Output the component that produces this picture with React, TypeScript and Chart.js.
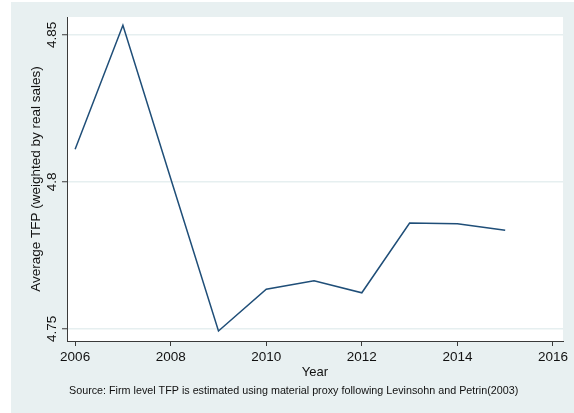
import React, { useEffect, useRef } from "react";
import { Chart, registerables } from "chart.js";

Chart.register(...registerables);

const years = [2006, 2007, 2008, 2009, 2010, 2011, 2012, 2013, 2014, 2015];
const tfp = [4.8111, 4.8533, 4.8012, 4.7493, 4.7635, 4.7664, 4.7623, 4.786, 4.7858, 4.7836];
const xTicks = [2006, 2008, 2010, 2012, 2014, 2016];
const xTickLabels = ["2006", "2008", "2010", "2012", "2014", "2016"];
const yTicks = [4.75, 4.8, 4.85];
const yTickLabels = ["4.75", "4.8", "4.85"];
const xTitle = "Year";
const yTitle = "Average TFP (weighted by real sales)";
const note = "Source: Firm level TFP is estimated using material proxy following Levinsohn and Petrin(2003)";

const BG = "#E8F0F1";
const GRID = "#E6EFF0";
const NAVY = "#1F4E78";
const AXIS = "#3a3a3a";
const FONT = '"Liberation Sans", Arial, Helvetica, sans-serif';

const decor = {
  id: "decor",
  beforeDraw(chart: any) {
    const { ctx, chartArea } = chart;
    ctx.save();
    ctx.fillStyle = "#ffffff";
    ctx.fillRect(0, 0, chart.width, chart.height);
    ctx.fillStyle = BG;
    ctx.fillRect(11, 2, chart.width - 11, chart.height - 2);
    ctx.fillStyle = "#ffffff";
    ctx.fillRect(chartArea.left, chartArea.top, chartArea.right - chartArea.left, chartArea.bottom - chartArea.top);
    ctx.restore();
  },
  afterDraw(chart: any) {
    const { ctx, chartArea } = chart;
    const xs = chart.scales.x;
    const ys = chart.scales.y;
    ctx.save();
    ctx.fillStyle = "#111";
    ctx.font = `13.5px ${FONT}`;
    ctx.textAlign = "center";
    ctx.textBaseline = "middle";
    xTicks.forEach((v, i) => {
      ctx.fillText(xTickLabels[i], xs.getPixelForValue(v), 357);
    });
    yTicks.forEach((v, i) => {
      ctx.save();
      ctx.translate(52, ys.getPixelForValue(v));
      ctx.rotate(-Math.PI / 2);
      ctx.fillText(yTickLabels[i], 0, 0);
      ctx.restore();
    });
    ctx.font = `13px ${FONT}`;
    ctx.fillText(xTitle, (chartArea.left + chartArea.right) / 2, 372);
    ctx.font = `13.5px ${FONT}`;
    ctx.save();
    ctx.translate(36, (chartArea.top + chartArea.bottom) / 2);
    ctx.rotate(-Math.PI / 2);
    ctx.fillText(yTitle, 0, 0);
    ctx.restore();
    ctx.font = `10.75px ${FONT}`;
    ctx.textAlign = "left";
    ctx.fillText(note, 69, 391);
    ctx.restore();
  },
};

export default function App() {
  const ref = useRef<HTMLCanvasElement>(null);
  useEffect(() => {
    if (!ref.current) return;
    const chart = new Chart(ref.current, {
      type: "line",
      data: {
        datasets: [
          {
            data: years.map((x, i) => ({ x, y: tfp[i] })),
            borderColor: NAVY,
            borderWidth: 1.5,
            pointRadius: 0,
            tension: 0,
            fill: false,
          },
        ],
      },
      options: {
        responsive: false,
        animation: false,
        devicePixelRatio: 1,
        layout: { padding: { left: 11, right: 11, top: 17, bottom: 0 } },
        plugins: { legend: { display: false }, tooltip: { enabled: false }, title: { display: false } },
        scales: {
          x: {
            type: "linear",
            min: 2005.83,
            max: 2016.21,
            afterBuildTicks: (s: any) => {
              s.ticks = xTicks.map((v) => ({ value: v }));
            },
            afterFit: (s: any) => {
              s.height = 72;
            },
            ticks: { display: false },
            grid: { drawOnChartArea: false, drawTicks: true, tickLength: 5, tickColor: AXIS, tickWidth: 1 },
            border: { display: true, color: AXIS, width: 1 },
          },
          y: {
            type: "linear",
            min: 4.7459,
            max: 4.8561,
            afterBuildTicks: (s: any) => {
              s.ticks = yTicks.map((v) => ({ value: v }));
            },
            afterFit: (s: any) => {
              s.width = 56;
            },
            ticks: { display: false },
            grid: { color: GRID, lineWidth: 1.5, drawTicks: true, tickLength: 5, tickColor: AXIS, tickWidth: 1 },
            border: { display: true, color: AXIS, width: 1 },
          },
        },
      },
      plugins: [decor],
    });
    return () => chart.destroy();
  }, []);
  return (
    <div style={{ position: "fixed", left: 0, top: 0, width: 574, height: 413 }}>
      <canvas ref={ref} width={574} height={413} style={{ display: "block", width: 574, height: 413 }} />
    </div>
  );
}
